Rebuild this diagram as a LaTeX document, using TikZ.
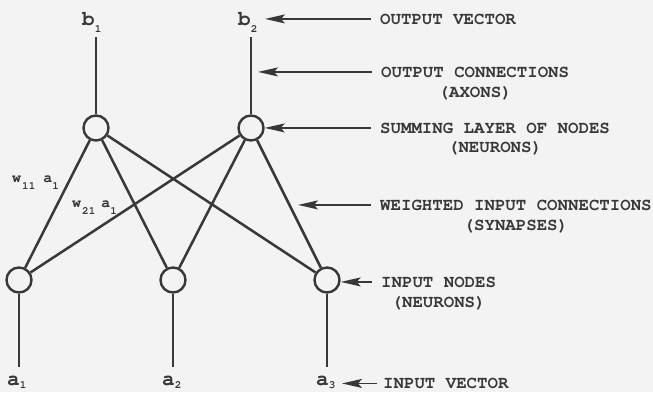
\documentclass[tikz,border=0pt]{standalone}
\usepackage{fontspec}
\setmonofont[Extension=.otf,UprightFont=texgyrecursor-regular,BoldFont=texgyrecursor-bold]{texgyrecursor}
\usetikzlibrary{arrows.meta}
\definecolor{ink}{HTML}{383838}
\definecolor{paper}{HTML}{F3F3F3}
% \vsub{size}{lowering}{text}
\newcommand\vsub[3]{\raisebox{-#2}{\fontsize{#1}{#1}\selectfont #3}}
\begin{document}
\begin{tikzpicture}[x=1pt,y=-1pt,
  neuron/.style={circle,draw=ink,line width=2.4pt,minimum size=25pt,inner sep=0pt,fill=paper},
  wire/.style={draw=ink,line width=2.5pt},
  pointer/.style={draw=ink,line width=1.5pt,shorten <=9pt,-{Stealth[length=20pt,width=9pt,inset=4pt]}},
  lbl/.style={font=\fontsize{17.4}{19}\selectfont\ttfamily\bfseries,text=ink,inner sep=0pt},
  vec/.style={font=\fontsize{21}{23}\selectfont\ttfamily\bfseries,text=ink,inner sep=0pt,anchor=base west},
  wt/.style={font=\fontsize{15}{16}\selectfont\ttfamily\bfseries,text=ink,inner sep=0pt,anchor=base west}]
\fill[paper] (0,0) rectangle (653,392);
\useasboundingbox (0,0) rectangle (653,392);
% neurons
\node[neuron] (h1) at (96,128) {};
\node[neuron] (h2) at (251,128) {};
\node[neuron] (i1) at (19,280) {};
\node[neuron] (i2) at (173,280) {};
\node[neuron] (i3) at (327,280) {};
% free ends
\coordinate (o1) at (96,37);
\coordinate (o2) at (251,37);
\coordinate (e1) at (19,367);
\coordinate (e2) at (173,367);
\coordinate (e3) at (327,367);
% vector labels
\node[vec] (b1) at (82,25) {b\vsub{11}{7pt}{1}};
\node[vec] (b2) at (238,25) {b\vsub{11}{7pt}{2}};
\node[vec] (a1) at (7,385) {a\vsub{11}{3.5pt}{1}};
\node[vec] (a2) at (162,385) {a\vsub{11}{3.5pt}{2}};
\node[vec] (a3) at (316,385) {a\vsub{11}{3.5pt}{3}};
% weight labels
\node[wt] (w11) at (12,182) {w\hspace{1pt}\vsub{11}{7pt}{11}\hspace{8pt}a\vsub{11}{7pt}{1}};
\node[wt] (w21) at (72,207) {w\hspace{1pt}\vsub{11}{7pt}{21}\hspace{6pt}a\vsub{11}{7pt}{1}};
% connections
\foreach \h in {h1,h2}{
  \foreach \i in {i1,i2,i3}{
    \draw[wire] (\h) -- (\i);
  }
}
\draw[wire] (h1) -- (o1);
\draw[wire] (h2) -- (o2);
\draw[wire] (i1) -- (e1);
\draw[wire] (i2) -- (e2);
\draw[wire] (i3) -- (e3);
% right-hand text
\node[lbl,anchor=base west] (t1) at (380,24) {OUTPUT VECTOR};
\node[lbl,anchor=base west] (t2) at (381,77) {OUTPUT CONNECTIONS};
\node[lbl,anchor=base] (t2b) at ([yshift=-20pt]t2.base) {(AXONS)};
\node[lbl,anchor=base west] (t3) at (380,133) {SUMMING LAYER OF NODES};
\node[lbl,anchor=base] (t3b) at ([yshift=-19pt]t3.base) {(NEURONS)};
\node[lbl,anchor=base west] (t4) at (380,210) {WEIGHTED INPUT CONNECTIONS};
\node[lbl,anchor=base] (t4b) at ([yshift=-20pt]t4.base) {(SYNAPSES)};
\node[lbl,anchor=base west] (t5) at (381,287) {INPUT NODES};
\node[lbl,anchor=base] (t5b) at ([yshift=-20pt]t5.base) {(NEURONS)};
\node[lbl,anchor=base west] (t6) at (383,388.5) {INPUT VECTOR};
% arrow tips
\coordinate (p1) at (265,0);
\coordinate (p2) at (258,0);
\coordinate (p4) at (298,0);
\coordinate (p6) at (342,0);
\draw[pointer] (t1.west) -- (t1.west -| p1);
\draw[pointer] (t2.west) -- (t2.west -| p2);
\draw[pointer] (t3.west) -- (t3.west -| h2.east);
\draw[pointer] (t4.west) -- (t4.west -| p4);
\draw[pointer] (t5.west) -- (t5.west -| i3.east);
\draw[pointer,shorten <=6pt] (t6.west) -- (t6.west -| p6);
\end{tikzpicture}
\end{document}
